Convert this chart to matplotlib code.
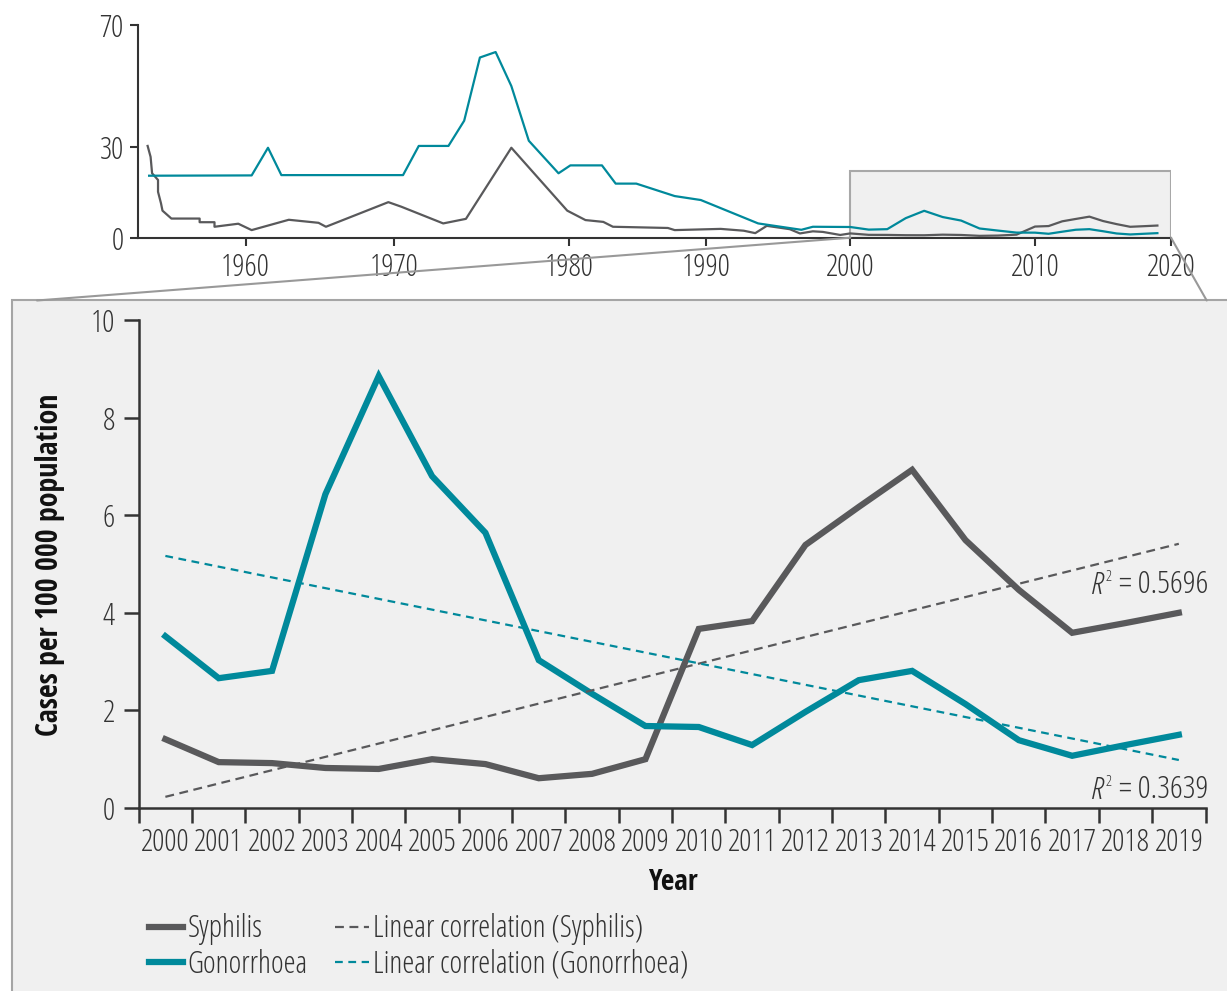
import matplotlib.pyplot as plt
import numpy as np
from matplotlib.patches import Rectangle, ConnectionPatch

plt.rcParams['font.family'] = ['Open Sans', 'DejaVu Sans']
plt.rcParams['font.weight'] = 300
plt.rcParams['font.stretch'] = 'condensed'
BOLD = 'Open Sans Condensed'

GREY = '#59595b'
TEAL = '#00899b'
INK = '#333333'

# Annual rates 2000-2019 (cases per 100 000)
years = np.arange(2000, 2020)
syphilis = [1.41, 0.94, 0.92, 0.82, 0.80, 1.00, 0.90, 0.61, 0.70, 1.00,
            3.67, 3.83, 5.39, 6.17, 6.93, 5.49, 4.47, 3.59, 3.79, 4.00]
gonorrhoea = [3.52, 2.66, 2.81, 6.43, 8.85, 6.80, 5.64, 3.03, 2.34, 1.68,
              1.66, 1.29, 1.97, 2.62, 2.81, 2.13, 1.39, 1.07, 1.29, 1.50]
r2_syphilis = '0.5696'
r2_gonorrhoea = '0.3639'

# Long-run history before 2000 (overview panel)
hist_syph_years = [1953.4, 1953.6, 1953.7, 1954.1, 1954.1, 1954.3, 1954.4, 1955.0,
                   1956.9, 1956.9, 1957.9, 1957.9, 1959.5, 1960.4, 1962.9, 1964.9,
                   1965.4, 1969.6, 1970.4, 1972.8, 1974.1, 1976.7, 1979.9, 1981.2,
                   1982.5, 1983.2, 1987.2, 1987.7, 1991.0, 1992.6, 1993.4, 1994.2,
                   1995.8, 1996.5, 1997.4, 1998.1, 1999.3]
hist_syph = [30.2, 26.6, 21.2, 19.0, 15.1, 11.3, 8.9, 6.3,
             6.3, 5.1, 5.1, 3.6, 4.6, 2.5, 5.9, 4.9,
             3.6, 11.7, 10.2, 4.7, 6.2, 29.6, 8.9, 5.8,
             5.2, 3.6, 3.2, 2.5, 2.9, 2.3, 1.5, 3.9,
             2.8, 1.4, 2.1, 1.9, 0.9]
hist_gon_years = [1953.5, 1960.4, 1961.5, 1962.4, 1970.5, 1971.4, 1973.1, 1974.0,
                  1974.9, 1975.8, 1976.7, 1977.7, 1979.4, 1980.1, 1982.4, 1983.4,
                  1984.9, 1987.7, 1989.6, 1993.6, 1996.6, 1997.4]
hist_gon = [20.4, 20.5, 29.6, 20.6, 20.6, 30.2, 30.2, 38.5,
            59.3, 61.1, 49.9, 31.9, 21.2, 23.8, 23.8, 17.8,
            17.8, 13.7, 12.4, 4.7, 2.6, 3.6]

# The overview axis spaces its decades unevenly
decade_ticks = [1960, 1970, 1980, 1990, 2000, 2010, 2020]
decade_pos = [245.7, 394.3, 569.0, 706.3, 850.3, 1035.0, 1171.0]
anchor_years = [1940] + decade_ticks + [2040]
anchor_pos = [245.7 - 20 * 14.86] + decade_pos + [1171.0 + 20 * 13.6]


def to_pos(x):
    return np.interp(x, anchor_years, anchor_pos)


def to_year(p):
    return np.interp(p, anchor_pos, anchor_years)


def r_squared_label(ax, x, y, value):
    # "R² = value", right-aligned at (x, y), with italic R and raised 2
    main = ax.text(x, y, '= ' + value, ha='right', va='bottom', fontsize=23,
                   color=INK, clip_on=False)
    ax.annotate('2', xy=(0, 1), xycoords=main, xytext=(-5, -1),
                textcoords='offset points', ha='right', va='top', fontsize=11, color=INK)
    ax.annotate('R', xy=(0, 0), xycoords=main, xytext=(-11, 0),
                textcoords='offset points', ha='right', va='bottom', fontsize=23,
                style='italic', color=INK)


W, H = 1227, 991
fig = plt.figure(figsize=(W / 100, H / 100), dpi=100)
fig.patch.set_facecolor('white')

# shaded panel behind the detailed chart
fig.add_artist(Rectangle((11.7 / W, -0.05), 1.2, (991 - 300.5) / H + 0.05,
                         transform=fig.transFigure, facecolor='#f0f0f0',
                         edgecolor='#a5a5a5', linewidth=1.5, zorder=0))

# ---- overview panel ----
top = fig.add_axes([137.7 / W, (991 - 237.7) / H, (1171 - 137.7) / W, (237.7 - 25) / H])
top.set_xscale('function', functions=(to_pos, to_year))
top.set_xlim(to_year(137.7), 2020)
top.set_ylim(0, 70)
top.patch.set_alpha(0)

all_syph_x = list(hist_syph_years) + list(years)
all_syph_y = list(hist_syph) + list(syphilis)
all_gon_x = list(hist_gon_years) + list(years)
all_gon_y = list(hist_gon) + list(gonorrhoea)

top.add_patch(Rectangle((2000, 0), 20, 22, facecolor='#f0f0f0', edgecolor='#a8a8a8',
                        linewidth=1.5, zorder=1))
top.plot(all_syph_x, all_syph_y, color=GREY, lw=1.6, zorder=3)
top.plot(all_gon_x, all_gon_y, color=TEAL, lw=1.6, zorder=3)

for s in ['top', 'right']:
    top.spines[s].set_visible(False)
for s in ['left', 'bottom']:
    top.spines[s].set_color(INK)
    top.spines[s].set_linewidth(1.5)
top.set_yticks([0, 30, 70])
top.set_xticks(decade_ticks)
top.set_xticklabels([str(d) for d in decade_ticks])
top.xaxis.set_minor_locator(plt.NullLocator())
top.tick_params(axis='both', direction='out', length=6, width=1.5, color=INK,
                labelsize=22, labelcolor=INK, pad=4)

# ---- detailed 2000-2019 chart ----
ax = fig.add_axes([138.7 / W, (991 - 808) / H, (1205.5 - 138.7) / W, (808 - 320) / H])
ax.patch.set_alpha(0)
ax.set_xlim(1999.5, 2019.5)
ax.set_ylim(0, 10)

ax.plot(years, syphilis, color=GREY, lw=4.5, solid_joinstyle='miter', zorder=3, label='Syphilis')
ax.plot(years, gonorrhoea, color=TEAL, lw=4.5, solid_joinstyle='miter', zorder=3, label='Gonorrhoea')

idx = np.arange(len(years))
fit_s = np.polyval(np.polyfit(idx, syphilis, 1), idx)
fit_g = np.polyval(np.polyfit(idx, gonorrhoea, 1), idx)
ax.plot(years, fit_s, color=GREY, lw=1.6, dashes=(4, 2.5), zorder=4,
        label='Linear correlation (Syphilis)')
ax.plot(years, fit_g, color=TEAL, lw=1.6, dashes=(3.5, 2.5), zorder=4,
        label='Linear correlation (Gonorrhoea)')

r_squared_label(ax, 2019.55, 4.25, r2_syphilis)
r_squared_label(ax, 2019.55, 0.05, r2_gonorrhoea)

for s in ['top', 'right']:
    ax.spines[s].set_visible(False)
for s in ['left', 'bottom']:
    ax.spines[s].set_color(INK)
    ax.spines[s].set_linewidth(1.8)

ax.set_yticks(np.arange(0, 11, 2))
ax.set_xticks(np.arange(1999.5, 2020, 1))
ax.set_xticklabels([])
ax.set_xticks(years, minor=True)
ax.set_xticklabels([str(y) for y in years], minor=True)
ax.tick_params(axis='both', which='major', direction='out', length=11, width=1.8,
               color=INK, labelsize=22, labelcolor=INK, pad=6)
ax.tick_params(axis='x', which='minor', length=0, labelsize=22, labelcolor=INK, pad=14)

fig.text(50 / W, (991 - 565) / H, 'Cases per 100 000 population', rotation=90,
         ha='center', va='center', fontsize=21.5, family=BOLD, fontweight='bold',
         color='#111111')
fig.text(673 / W, (991 - 883) / H, 'Year', ha='center', va='center',
         fontsize=21, family=BOLD, fontweight='bold', color='#111111')

# zoom connectors between overview box and detailed panel
for xa, xb in [(2000, 37), (2020, 1206.7)]:
    con = ConnectionPatch(xyA=(xa, 0), coordsA=top.transData,
                          xyB=(xb / W, (991 - 300.5) / H), coordsB=fig.transFigure,
                          color='#999999', lw=1.5, zorder=5)
    fig.add_artist(con)

handles, labels = ax.get_legend_handles_labels()
leg = fig.legend(handles, labels, ncol=2, loc='upper left',
                 bbox_to_anchor=(137 / W, (991 - 901) / H), frameon=False,
                 fontsize=22, handlelength=1.1, handletextpad=0.15,
                 columnspacing=0.9, labelspacing=0.12, borderaxespad=0)
for t in leg.get_texts():
    t.set_color(INK)

fig.savefig('out.png', dpi=100, facecolor='white')
